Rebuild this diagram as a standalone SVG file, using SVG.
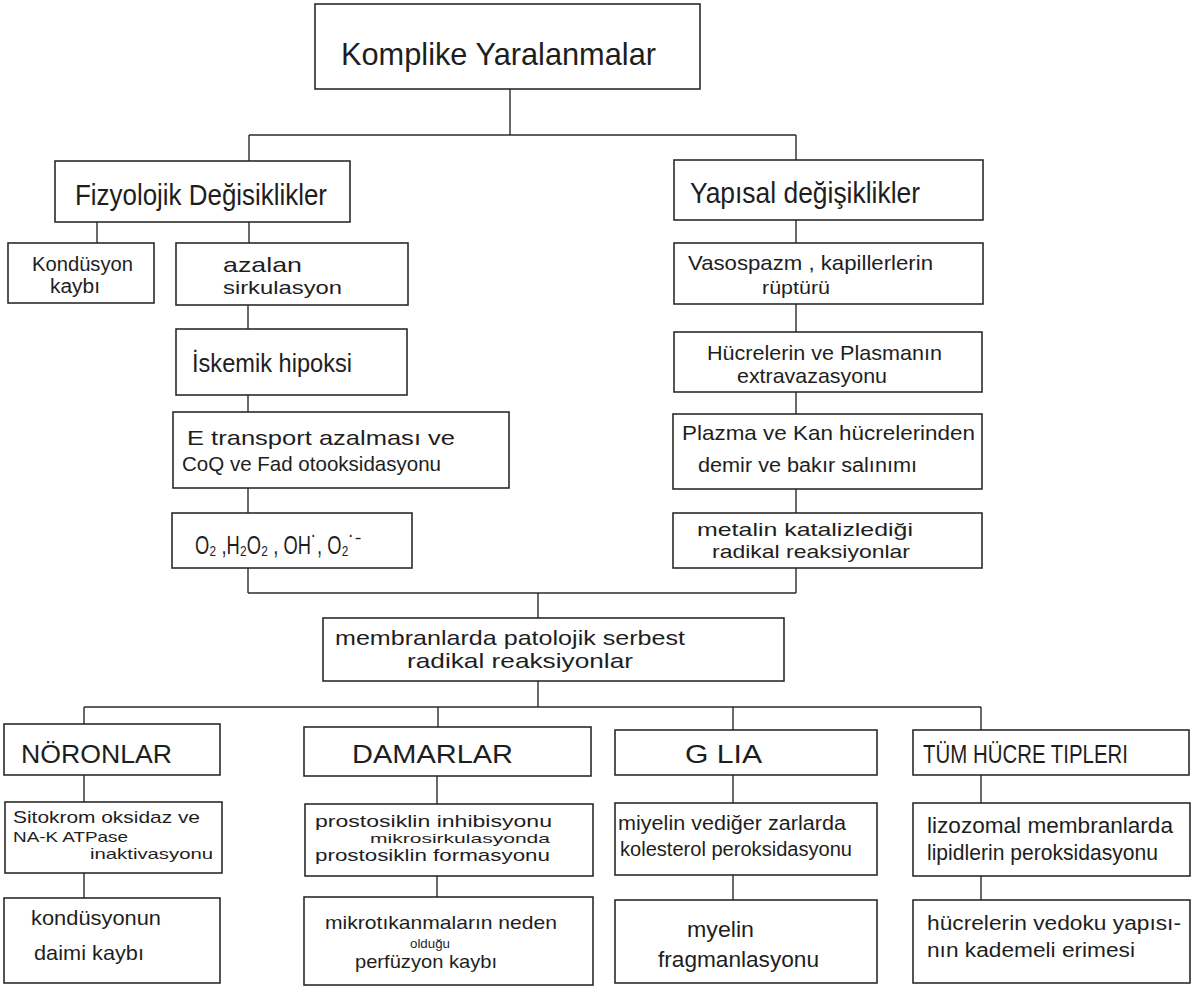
<svg xmlns="http://www.w3.org/2000/svg" width="1203" height="989" viewBox="0 0 1203 989">
<style>
  .box{fill:none;stroke:#2b2b2b;stroke-width:1.6}
  .ln{fill:none;stroke:#2b2b2b;stroke-width:1.4}
  text{font-family:"Liberation Sans Narrow","Liberation Sans",sans-serif;fill:#1e1e1e}
</style>
<rect width="1203" height="989" fill="#ffffff"/>
<g id="connectors">
  <path class="ln" d="M510 89V135M249 135H796M249 135V161M796 135V160"/>
  <path class="ln" d="M97 222V243M249 222V243"/>
  <path class="ln" d="M248 305V329M248 395V412M248 488V513M248 568V593"/>
  <path class="ln" d="M796 220V243M796 304V332M796 392V414M796 489V513M796 568V593"/>
  <path class="ln" d="M248 593H796M538 593V618M538 681V707M84 707H981"/>
  <path class="ln" d="M84 707V724M438 707V727M733 707V730M981 707V730"/>
  <path class="ln" d="M84 775V802M84 873V898M437 776V804M437 876V897M733 775V803M733 875V900M981 775V803M981 876V900"/>
</g>
<g id="n-komplike">
  <rect class="box" x="315" y="4" width="385" height="85"/>
  <text x="341" y="65" font-size="32" textLength="315" lengthAdjust="spacingAndGlyphs">Komplike Yaralanmalar</text>
</g>
<g id="n-fizyolojik">
  <rect class="box" x="55" y="161" width="295" height="61"/>
  <text x="75" y="205" font-size="30" textLength="252" lengthAdjust="spacingAndGlyphs">Fizyolojik Değisiklikler</text>
</g>
<g id="n-yapisal">
  <rect class="box" x="674" y="160" width="309" height="60"/>
  <text x="690" y="203" font-size="30" textLength="230" lengthAdjust="spacingAndGlyphs">Yapısal  değişiklikler</text>
</g>
<g id="n-kondusyon">
  <rect class="box" x="8" y="243" width="146" height="60"/>
  <text x="32" y="271" font-size="20" textLength="101" lengthAdjust="spacingAndGlyphs">Kondüsyon</text>
  <text x="50" y="293" font-size="20" textLength="50" lengthAdjust="spacingAndGlyphs">kaybı</text>
</g>
<g id="n-azalan">
  <rect class="box" x="176" y="243" width="232" height="62"/>
  <text x="223" y="272" font-size="21" textLength="79" lengthAdjust="spacingAndGlyphs">azalan</text>
  <text x="223" y="294" font-size="19" textLength="119" lengthAdjust="spacingAndGlyphs">sirkulasyon</text>
</g>
<g id="n-iskemik">
  <rect class="box" x="176" y="329" width="231" height="66"/>
  <text x="192" y="372" font-size="26" textLength="160" lengthAdjust="spacingAndGlyphs">İskemik hipoksi</text>
</g>
<g id="n-etransport">
  <rect class="box" x="173" y="412" width="336" height="76"/>
  <text x="187" y="445" font-size="21" textLength="268" lengthAdjust="spacingAndGlyphs">E transport  azalması ve</text>
  <text x="182" y="471" font-size="21" textLength="259" lengthAdjust="spacingAndGlyphs">CoQ ve Fad  otooksidasyonu</text>
</g>
<g id="n-radicals">
  <rect class="box" x="172" y="513" width="240" height="55"/>
  <text x="195" y="554" font-size="26" textLength="166" lengthAdjust="spacingAndGlyphs">O₂ ,H₂O₂ , OH˙, O₂˙⁻</text>
</g>
<g id="n-vasospazm">
  <rect class="box" x="674" y="243" width="309" height="61"/>
  <text x="688" y="270" font-size="21" textLength="245" lengthAdjust="spacingAndGlyphs">Vasospazm , kapillerlerin</text>
  <text x="762" y="294" font-size="19" textLength="68" lengthAdjust="spacingAndGlyphs">rüptürü</text>
</g>
<g id="n-hucrelerin">
  <rect class="box" x="674" y="332" width="308" height="60"/>
  <text x="707" y="360" font-size="21" textLength="235" lengthAdjust="spacingAndGlyphs">Hücrelerin ve  Plasmanın</text>
  <text x="737" y="383" font-size="21" textLength="150" lengthAdjust="spacingAndGlyphs">extravazasyonu</text>
</g>
<g id="n-plazma">
  <rect class="box" x="673" y="414" width="309" height="75"/>
  <text x="682" y="440" font-size="21" textLength="293" lengthAdjust="spacingAndGlyphs">Plazma  ve  Kan hücrelerinden</text>
  <text x="698" y="472" font-size="20" textLength="219" lengthAdjust="spacingAndGlyphs">demir ve bakır  salınımı</text>
</g>
<g id="n-metalin">
  <rect class="box" x="673" y="513" width="309" height="55"/>
  <text x="697" y="536" font-size="19" textLength="216" lengthAdjust="spacingAndGlyphs">metalin  katalizlediği</text>
  <text x="712" y="558" font-size="19" textLength="198" lengthAdjust="spacingAndGlyphs">radikal  reaksiyonlar</text>
</g>
<g id="n-membranlarda">
  <rect class="box" x="323" y="618" width="461" height="63"/>
  <text x="335" y="645" font-size="21" textLength="350" lengthAdjust="spacingAndGlyphs">membranlarda  patolojik  serbest</text>
  <text x="407" y="668" font-size="21" textLength="226" lengthAdjust="spacingAndGlyphs">radikal  reaksiyonlar</text>
</g>
<g id="n-noronlar">
  <rect class="box" x="4" y="724" width="216" height="51"/>
  <text x="21" y="763" font-size="26" textLength="151" lengthAdjust="spacingAndGlyphs">NÖRONLAR</text>
</g>
<g id="n-damarlar">
  <rect class="box" x="304" y="727" width="287" height="49"/>
  <text x="352" y="763" font-size="26" textLength="161" lengthAdjust="spacingAndGlyphs">DAMARLAR</text>
</g>
<g id="n-glia">
  <rect class="box" x="615" y="730" width="262" height="45"/>
  <text x="685" y="763" font-size="26" textLength="77" lengthAdjust="spacingAndGlyphs">G LIA</text>
</g>
<g id="n-tum">
  <rect class="box" x="913" y="730" width="276" height="45"/>
  <text x="923" y="763" font-size="26" textLength="205" lengthAdjust="spacingAndGlyphs">TÜM HÜCRE TIPLERI</text>
</g>
<g id="n-sitokrom">
  <rect class="box" x="5" y="802" width="217" height="71"/>
  <text x="13" y="823" font-size="17" textLength="187" lengthAdjust="spacingAndGlyphs">Sitokrom oksidaz ve</text>
  <text x="13" y="842" font-size="15" textLength="115" lengthAdjust="spacingAndGlyphs">NA-K ATPase</text>
  <text x="90" y="859" font-size="15" textLength="123" lengthAdjust="spacingAndGlyphs">inaktivasyonu</text>
</g>
<g id="n-kondusyonun">
  <rect class="box" x="4" y="898" width="216" height="85"/>
  <text x="31" y="925" font-size="21" textLength="130" lengthAdjust="spacingAndGlyphs">kondüsyonun</text>
  <text x="34" y="960" font-size="21" textLength="110" lengthAdjust="spacingAndGlyphs">daimi  kaybı</text>
</g>
<g id="n-prostosiklin">
  <rect class="box" x="305" y="804" width="288" height="72"/>
  <text x="315" y="827" font-size="17" textLength="237" lengthAdjust="spacingAndGlyphs">prostosiklin inhibisyonu</text>
  <text x="370" y="843" font-size="13" textLength="180" lengthAdjust="spacingAndGlyphs">mikrosirkulasyonda</text>
  <text x="315" y="861" font-size="17" textLength="235" lengthAdjust="spacingAndGlyphs">prostosiklin  formasyonu</text>
</g>
<g id="n-mikrotikanma">
  <rect class="box" x="304" y="897" width="289" height="88"/>
  <text x="325" y="929" font-size="19" textLength="232" lengthAdjust="spacingAndGlyphs">mikrotıkanmaların neden</text>
  <text x="410" y="948" font-size="13" textLength="40" lengthAdjust="spacingAndGlyphs">olduğu</text>
  <text x="355" y="968" font-size="19" textLength="142" lengthAdjust="spacingAndGlyphs">perfüzyon kaybı</text>
</g>
<g id="n-miyelin-zar">
  <rect class="box" x="615" y="803" width="262" height="72"/>
  <text x="618" y="830" font-size="20" textLength="228" lengthAdjust="spacingAndGlyphs">miyelin vediğer zarlarda</text>
  <text x="620" y="856" font-size="20" textLength="232" lengthAdjust="spacingAndGlyphs">kolesterol peroksidasyonu</text>
</g>
<g id="n-myelin-frag">
  <rect class="box" x="615" y="900" width="262" height="83"/>
  <text x="687" y="937" font-size="22" textLength="67" lengthAdjust="spacingAndGlyphs">myelin</text>
  <text x="658" y="967" font-size="22" textLength="161" lengthAdjust="spacingAndGlyphs">fragmanlasyonu</text>
</g>
<g id="n-lizozomal">
  <rect class="box" x="913" y="803" width="277" height="73"/>
  <text x="927" y="833" font-size="22" textLength="246" lengthAdjust="spacingAndGlyphs">lizozomal membranlarda</text>
  <text x="927" y="860" font-size="22" textLength="231" lengthAdjust="spacingAndGlyphs">lipidlerin  peroksidasyonu</text>
</g>
<g id="n-erime">
  <rect class="box" x="913" y="900" width="277" height="83"/>
  <text x="927" y="930" font-size="20" textLength="254" lengthAdjust="spacingAndGlyphs">hücrelerin vedoku yapısı-</text>
  <text x="927" y="957" font-size="20" textLength="208" lengthAdjust="spacingAndGlyphs">nın  kademeli erimesi</text>
</g>
</svg>
